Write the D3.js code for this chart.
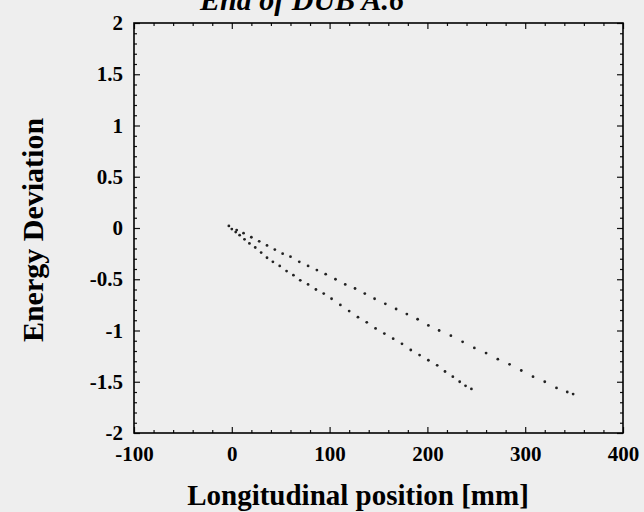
<!DOCTYPE html>
<html>
<head>
<meta charset="utf-8">
<script src="https://cdn.jsdelivr.net/npm/d3@7"></script>
<style>
  body { margin: 0; background: #eeeeee; }
  svg { display: block; }
  .tick text { font-family: "Liberation Serif", serif; font-weight: bold; }
</style>
</head>
<body>
<div id="container"></div>
<script>
var w = 644;
var h = 512;

// values
var titleText = "End of DUB A.6";
var xLabel = "Longitudinal position [mm]";
var yLabel = "Energy Deviation";
var xTicks = [-100, 0, 100, 200, 300, 400];
var yTicks = [-2, -1.5, -1, -0.5, 0, 0.5, 1, 1.5, 2];
var xMinor = [-80, -60, -40, -20, 20, 40, 60, 80, 120, 140, 160, 180, 220, 240, 260, 280, 320, 340, 360, 380];
var yMinor = [-1.9, -1.8, -1.7, -1.6, -1.4, -1.3, -1.2, -1.1, -0.9, -0.8, -0.7, -0.6, -0.4, -0.3, -0.2, -0.1,
              0.1, 0.2, 0.3, 0.4, 0.6, 0.7, 0.8, 0.9, 1.1, 1.2, 1.3, 1.4, 1.6, 1.7, 1.8, 1.9];

// upper branch of the bunch
var upperX = [-3, 5, 12, 20, 28, 36, 44, 52, 60, 69, 78, 87, 96, 106, 116, 126, 136, 146, 157, 168,
              179, 190, 201, 212, 224, 236, 248, 260, 272, 284, 296, 308, 320, 332, 343, 349];
var upperY = [0.02, -0.02, -0.05, -0.09, -0.13, -0.17, -0.21, -0.25, -0.28, -0.33, -0.37, -0.41, -0.45, -0.50,
              -0.55, -0.59, -0.64, -0.69, -0.74, -0.79, -0.84, -0.89, -0.95, -1.00, -1.05, -1.11, -1.17,
              -1.22, -1.28, -1.33, -1.39, -1.45, -1.50, -1.56, -1.60, -1.62];
// lower branch of the bunch
var lowerX = [0, 4, 8, 13, 18, 24, 30, 36, 42, 49, 56, 63, 70, 78, 86, 94, 102, 111, 120, 129,
              138, 147, 156, 165, 174, 183, 192, 201, 210, 218, 226, 233, 239, 245];
var lowerY = [-0.01, -0.04, -0.07, -0.11, -0.15, -0.19, -0.24, -0.29, -0.33, -0.37, -0.42, -0.46, -0.51,
              -0.55, -0.60, -0.64, -0.69, -0.75, -0.81, -0.87, -0.92, -0.98, -1.03, -1.08, -1.13, -1.19,
              -1.24, -1.29, -1.34, -1.40, -1.45, -1.50, -1.54, -1.57];

var points = upperX.map(function(d, i) { return [d, upperY[i]]; })
  .concat(lowerX.map(function(d, i) { return [d, lowerY[i]]; }));

var pl = 134, pr = 623, pt = 23, pb = 433;

var svg = d3.select("div#container").append("svg")
    .attr("width", w).attr("height", h)
    .style("background-color", "#eeeeee");

var x = d3.scaleLinear().domain([-100, 400]).range([pl, pr]);
var y = d3.scaleLinear().domain([-2, 2]).range([pb, pt]);

function fmt(d) { return String(d); }

// minor ticks, all four sides
svg.append("g").attr("transform", "translate(0," + pb + ")")
  .call(d3.axisBottom(x).tickValues(xMinor).tickSize(-3).tickFormat(""));
svg.append("g").attr("transform", "translate(0," + pt + ")")
  .call(d3.axisTop(x).tickValues(xMinor).tickSize(-3).tickFormat(""));
svg.append("g").attr("transform", "translate(" + pl + ",0)")
  .call(d3.axisLeft(y).tickValues(yMinor).tickSize(-3).tickFormat(""));
svg.append("g").attr("transform", "translate(" + pr + ",0)")
  .call(d3.axisRight(y).tickValues(yMinor).tickSize(-3).tickFormat(""));

// major ticks
var xb = svg.append("g").attr("transform", "translate(0," + pb + ")")
  .call(d3.axisBottom(x).tickValues(xTicks).tickSize(-6).tickPadding(13).tickFormat(fmt));
svg.append("g").attr("transform", "translate(0," + pt + ")")
  .call(d3.axisTop(x).tickValues(xTicks).tickSize(-6).tickFormat(""));
var yl = svg.append("g").attr("transform", "translate(" + pl + ",0)")
  .call(d3.axisLeft(y).tickValues(yTicks).tickSize(-6).tickPadding(11).tickFormat(fmt));
svg.append("g").attr("transform", "translate(" + pr + ",0)")
  .call(d3.axisRight(y).tickValues(yTicks).tickSize(-6).tickFormat(""));

svg.selectAll(".domain").remove();
svg.selectAll(".tick line").attr("stroke", "#111").attr("stroke-width", 1.2);
xb.selectAll(".tick text").attr("font-size", 21).attr("fill", "#000");
yl.selectAll(".tick text").attr("font-size", 21).attr("fill", "#000");

// frame
svg.append("rect")
    .attr("x", pl).attr("y", pt)
    .attr("width", pr - pl).attr("height", pb - pt)
    .attr("fill", "none").attr("stroke", "#000").attr("stroke-width", 1.6);

// particles
svg.append("g")
  .selectAll("circle")
  .data(points)
  .enter().append("circle")
    .attr("cx", function(d) { return x(d[0]); })
    .attr("cy", function(d) { return y(d[1]); })
    .attr("r", 1.4)
    .attr("fill", "#222");

// title, cut by the top edge
svg.append("text")
    .attr("x", 302).attr("y", 10)
    .attr("text-anchor", "middle")
    .attr("font-family", "Liberation Serif, serif")
    .attr("font-style", "italic").attr("font-weight", "bold")
    .attr("font-size", 30)
    .text(titleText);

svg.append("text")
    .attr("x", 358).attr("y", 505)
    .attr("text-anchor", "middle")
    .attr("font-family", "Liberation Serif, serif")
    .attr("font-weight", "bold")
    .attr("font-size", 29)
    .text(xLabel);

svg.append("text")
    .attr("transform", "translate(43,230) rotate(-90)")
    .attr("text-anchor", "middle")
    .attr("font-family", "Liberation Serif, serif")
    .attr("font-weight", "bold")
    .attr("font-size", 30)
    .text(yLabel);
</script>
</body>
</html>
